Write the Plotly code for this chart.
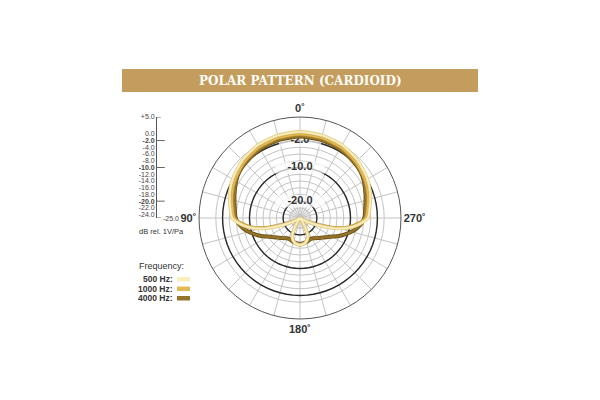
import plotly.graph_objects as go

# ---------------- data ----------------
theta_500 = [0, 15, 30, 45, 60, 70, 80, 90, 95, 100, 105, 110, 115, 120, 130, 140, 145, 150, 155, 160, 165, 170, 180]
db_500 = [0.6, 0.4, 0.0, -0.8, -1.9, -2.8, -3.9, -4.8, -6.8, -9.3, -12.8, -17.8, -21.6, -24.0, -25.0, -25.0, -24.5,
          -22.5, -19.8, -18.5, -17.8, -17.3, -17.0]

theta_1000 = [0, 15, 30, 45, 60, 70, 80, 90, 95, 100, 105, 110, 115, 120, 130, 140, 145, 150, 155, 160, 165, 170, 180]
db_1000 = [-0.2, -0.4, -0.8, -1.6, -2.7, -3.6, -4.6, -5.5, -7.5, -10.1, -13.6, -18.6, -22.3, -24.5, -25.0, -25.0,
           -24.5, -22.5, -19.8, -18.5, -17.8, -17.3, -17.0]

theta_4000 = [0, 15, 30, 45, 53, 60, 70, 80, 90, 96, 100, 105, 110, 115, 122, 130, 140, 147, 155, 165, 180]
db_4000 = [-0.8, -1.0, -1.4, -2.0, -2.4, -3.1, -4.3, -5.3, -5.9, -6.8, -7.8, -9.2, -10.8, -12.3, -14.5, -16.0, -17.2,
           -17.8, -18.0, -17.6, -17.2]

ring_values = [-24, -22, -20, -18, -16, -14, -12, -10, -8, -6, -4, -2, 0]
bold_rings = [-2, -10, -20]
bold_ring_labels = ["<b>-2.0</b>", "<b>-10.0</b>", "<b>-20.0</b>"]

scale_vals = [5, 0, -2, -4, -6, -8, -10, -12, -14, -16, -18, -20, -22, -24]
scale_text = ["+5.0", "0.0", "<b>-2.0</b>", "-4.0", "-6.0", "-8.0", "<b>-10.0</b>", "-12.0", "-14.0", "-16.0",
              "-18.0", "<b>-20.0</b>", "-22.0", "-24.0"]

angle_ticks = list(range(0, 360, 15))
angle_labels = {0: "<b>0˚</b>", 90: "<b>90˚</b>", 180: "<b>180˚</b>", 270: "<b>270˚</b>"}

freq_names = ["500 Hz:", "1000 Hz:", "4000 Hz:"]
freq_fill = ["#F9EEBE", "#E2BA55", "#94742A"]
freq_edge = ["#E2CA80", "#BE9535", "#6A4E14"]

R_MIN, R_MAX = -25, 5


def mirror(theta, vals):
    th = list(theta) + [360 - t for t in reversed(theta[:-1])]
    v = list(vals) + list(reversed(vals[:-1]))
    return th, [max(R_MIN, x) for x in v]


fig = go.Figure()

# faint shading in the centre
circ = list(range(0, 361, 5))
fig.add_trace(go.Scatterpolar(r=[-21.5] * len(circ), theta=circ, mode="lines", fill="toself",
                              fillcolor="rgba(190,190,190,0.25)", line=dict(width=0), hoverinfo="skip"))

# bold rings
for rv in bold_rings:
    fig.add_trace(go.Scatterpolar(r=[rv] * len(circ), theta=circ, mode="lines",
                                  line=dict(color="#2b2b2b", width=1.4), hoverinfo="skip"))

# white boxes behind ring labels
fig.add_trace(go.Scatterpolar(r=bold_rings, theta=[0] * 3, mode="markers",
                              marker=dict(symbol="line-ew", size=[30, 36, 36],
                                          line=dict(width=12, color="white")), hoverinfo="skip"))
fig.add_trace(go.Scatterpolar(r=bold_rings, theta=[0] * 3, mode="text", text=bold_ring_labels,
                              textfont=dict(family="Liberation Sans", size=11, color="#333"),
                              hoverinfo="skip"))

# frequency curves
curves = [(theta_4000, db_4000, 2), (theta_1000, db_1000, 1), (theta_500, db_500, 0)]
widths = [(4.0, 2.4), (3.2, 1.6), (3.4, 1.8)]
for (th, dbv, i), (we, wf) in zip(curves, widths):
    t, r = mirror(th, dbv)
    fig.add_trace(go.Scatterpolar(r=r, theta=t, mode="lines",
                                  line=dict(color=freq_edge[i], width=we, shape="spline", smoothing=0.7),
                                  hoverinfo="skip"))
    fig.add_trace(go.Scatterpolar(r=r, theta=t, mode="lines",
                                  line=dict(color=freq_fill[i], width=wf, shape="spline", smoothing=0.7),
                                  hoverinfo="skip"))

# left dB scale tick marks
tick_x, tick_y = [], []
for v, x0, x1 in [(5, 0, 0.3), (-2, -0.15, 0.6), (-10, -0.15, 0.6), (-20, -0.15, 0.6), (-25, 0, 0.3)]:
    tick_x += [x0, x1, None]
    tick_y += [v, v, None]
fig.add_trace(go.Scatter(x=tick_x, y=tick_y, xaxis="x2", yaxis="y2", mode="lines",
                         line=dict(color="#555", width=0.9), cliponaxis=False, hoverinfo="skip"))

fig.update_layout(
    template="none",
    width=600, height=400, margin=dict(l=0, r=0, t=0, b=0),
    paper_bgcolor="white", plot_bgcolor="white", showlegend=False,
    polar=dict(
        domain=dict(x=[199 / 600, 401 / 600], y=[81 / 400, 283 / 400]),
        bgcolor="white",
        angularaxis=dict(rotation=90, direction="counterclockwise", tickmode="array",
                         tickvals=angle_ticks, ticktext=[angle_labels.get(a, "") for a in angle_ticks],
                         showline=True, linecolor="#555", linewidth=1, gridcolor="#c4c4c4", gridwidth=0.6,
                         ticks="", tickfont=dict(family="Liberation Sans", size=11, color="#333")),
        radialaxis=dict(range=[R_MIN, R_MAX], tickmode="array", tickvals=ring_values, showticklabels=False,
                        ticks="", showline=False, gridcolor="#c4c4c4", gridwidth=0.6, angle=90),
    ),
    xaxis2=dict(domain=[157 / 600, 170 / 600], range=[0, 1], visible=False, anchor="y2"),
    yaxis2=dict(domain=[1 - 218 / 400, 1 - 117 / 400], range=[R_MIN, R_MAX], anchor="x2",
                tickmode="array", tickvals=scale_vals, ticktext=scale_text, showgrid=False, zeroline=False,
                showline=True, linecolor="#555", linewidth=0.9, ticks="",
                tickfont=dict(family="Liberation Sans", size=7, color="#444")),
)

# title banner
fig.add_shape(type="rect", xref="paper", yref="paper", x0=122 / 600, x1=478 / 600,
              y0=1 - 92 / 400, y1=1 - 69 / 400, fillcolor="#C49C5E", line=dict(width=0), layer="below")
fig.add_annotation(text="<b>POLAR PATTERN (CARDIOID)</b>", xref="paper", yref="paper", x=0.5, y=1 - 80.5 / 400,
                   xanchor="center", yanchor="middle",
                   showarrow=False, font=dict(family="DejaVu Serif", size=12, color="#FFFDF5"))

# scale annotations
fig.add_annotation(text="-25.0", xref="x2", yref="y2", x=0.3, y=-25, xanchor="left", yanchor="middle",
                   showarrow=False, font=dict(family="Liberation Sans", size=7, color="#444"))
fig.add_annotation(text="dB rel. 1V/Pa", xref="paper", yref="paper", x=137 / 600, y=1 - 232 / 400,
                   xanchor="left", yanchor="middle", showarrow=False,
                   font=dict(family="Liberation Sans", size=7.5, color="#333"))

# frequency legend
fig.add_annotation(text="Frequency:", xref="paper", yref="paper", x=137 / 600, y=1 - 266 / 400,
                   xanchor="left", yanchor="middle", showarrow=False,
                   font=dict(family="Liberation Sans", size=9, color="#333"))
for i, name in enumerate(freq_names):
    yc = 279 + 9.5 * i
    fig.add_annotation(text="<b>" + name + "</b>", xref="paper", yref="paper", x=175 / 600, y=1 - yc / 400,
                       xanchor="right", yanchor="middle", showarrow=False,
                       font=dict(family="Liberation Sans", size=8.5, color="#333"))
    fig.add_shape(type="rect", xref="paper", yref="paper", x0=177 / 600, x1=190 / 600,
                  y0=1 - (yc + 2.5) / 400, y1=1 - (yc - 2) / 400, fillcolor=freq_fill[i], line=dict(width=0))

fig.write_html("out.html", post_script="document.body.style.margin='0';",
               config={"displayModeBar": False})
